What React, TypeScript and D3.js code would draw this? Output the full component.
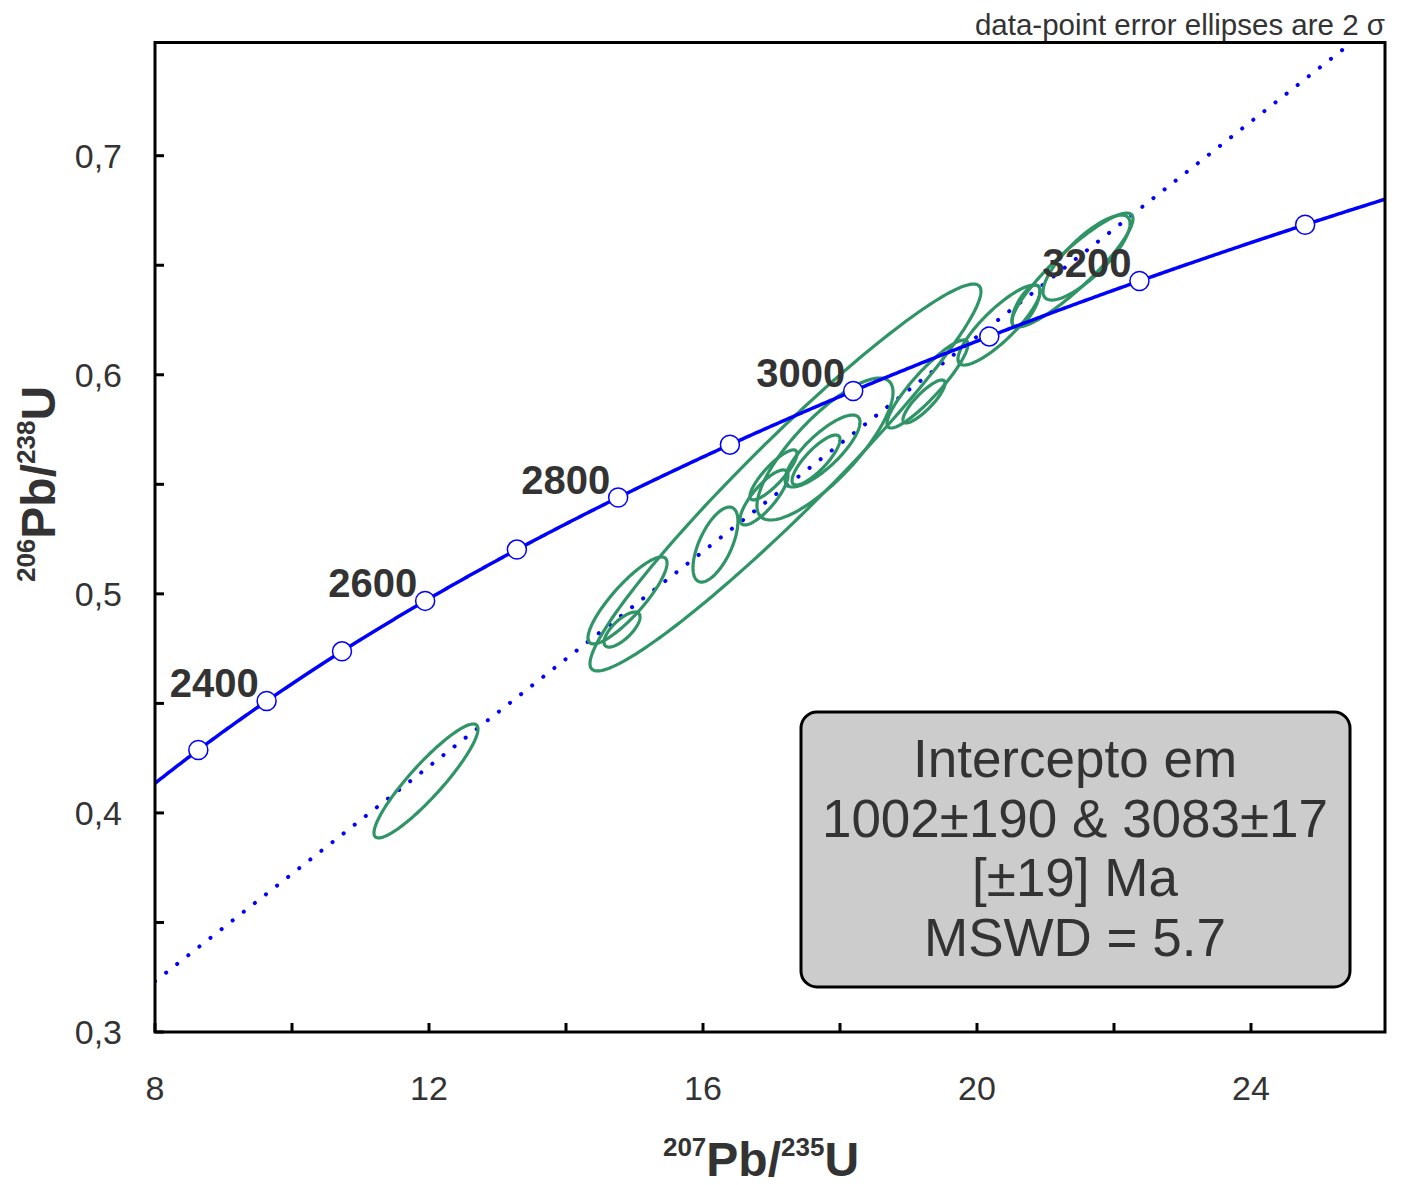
import React from 'react';
import * as d3 from 'd3';

// Decay constants (per year)
const LAMBDA_235 = 9.8485e-10;
const LAMBDA_238 = 1.55125e-10;

// Axis ticks
const xTickValues = [8, 12, 16, 20, 24];
const xMinorTicks = [10, 14, 18, 22];
const yTickValues = [0.3, 0.4, 0.5, 0.6, 0.7];
const yMinorTicks = [0.35, 0.45, 0.55, 0.65];

// Concordia age marks (Ma)
const concordiaAges = [2300, 2400, 2500, 2600, 2700, 2800, 2900, 3000, 3100, 3200, 3300];
const labeledAges = [2400, 2600, 2800, 3000, 3200];

// Discordia intercepts (Ma)
const interceptAges = [1002, 3083];

// Data-point error ellipses (2 sigma): 207Pb/235U, error, 206Pb/238U, error, rho
const ellX = [11.956, 14.898, 14.818, 17.204, 16.182, 17.650, 17.745, 17.781, 17.029, 16.891, 19.226, 19.277, 20.321, 20.715, 21.394, 21.599];
const ellXErr = [0.759, 0.577, 0.263, 2.854, 0.328, 0.350, 0.547, 0.993, 0.343, 0.350, 0.307, 0.591, 0.599, 0.204, 0.883, 0.635];
const ellY = [0.4146, 0.4970, 0.4837, 0.5531, 0.5225, 0.5611, 0.5652, 0.5661, 0.5543, 0.5440, 0.5878, 0.5958, 0.6227, 0.6314, 0.6478, 0.6535];
const ellYErr = [0.0260, 0.01986, 0.0080, 0.0883, 0.01712, 0.01141, 0.01643, 0.0324, 0.01141, 0.01255, 0.00981, 0.0201, 0.01826, 0.00959, 0.0260, 0.0194];
const ellRho = [0.91, 0.86, 0.72, 0.962, 0.62, 0.82, 0.80, 0.80, 0.85, 0.80, 0.85, 0.90, 0.85, 0.70, 0.90, 0.80];

const boxLines = ['Intercepto em', '1002±190 & 3083±17', '[±19] Ma', 'MSWD = 5.7'];
const noteText = 'data-point error ellipses are 2 σ';

const FONT = '"Liberation Sans", Arial, sans-serif';
const TEXT = '#333333';
const BLUE = '#0000ff';
const GREEN = '#2f9466';

const W = 1405;
const H = 1185;
const left = 155;
const right = 1385;
const top = 42.5;
const bottom = 1032;

const x = d3.scaleLinear().domain([8, 24]).range([left, 1251]);
const y = d3.scaleLinear().domain([0.3, 0.7]).range([bottom, 155.7]);

const conc = (tMa: number) => {
  const t = tMa * 1e6;
  return [Math.exp(LAMBDA_235 * t) - 1, Math.exp(LAMBDA_238 * t) - 1];
};

export default function App() {
  const line = d3.line<[number, number]>().x((d) => x(d[0])).y((d) => y(d[1]));

  // concordia curve
  const tStart = Math.log(1 + x.invert(left)) / LAMBDA_235 / 1e6 - 20;
  const tEnd = Math.log(1 + x.invert(right)) / LAMBDA_235 / 1e6 + 20;
  const concPts = d3.range(tStart, tEnd, 2).map((t) => conc(t) as [number, number]);
  const concPath = line(concPts) || '';

  // discordia
  const p1 = conc(interceptAges[0]);
  const p2 = conc(interceptAges[1]);
  const slope = (p2[1] - p1[1]) / (p2[0] - p1[0]);
  const xa = x.invert(left);
  const xb = x.invert(right);
  const discPath = line([
    [xa, p1[1] + slope * (xa - p1[0])],
    [xb, p1[1] + slope * (xb - p1[0])],
  ]) || '';

  // ellipses
  const closed = d3.line<[number, number]>().x((d) => x(d[0])).y((d) => y(d[1])).curve(d3.curveLinearClosed);
  const thetas = d3.range(0, 2 * Math.PI, Math.PI / 90);
  const ellPaths = ellX.map((cx, i) => {
    const a = ellXErr[i];
    const b = ellYErr[i];
    const r = ellRho[i];
    const s = Math.sqrt(1 - r * r);
    const pts = thetas.map((th) => [cx + a * Math.cos(th), ellY[i] + b * (r * Math.cos(th) + s * Math.sin(th))] as [number, number]);
    return closed(pts) || '';
  });

  return (
    <svg width={W} height={H} style={{ position: 'absolute', left: 0, top: 0, display: 'block', background: '#fff' }} fontFamily={FONT}>
      <defs>
        <clipPath id="plotClip">
          <rect x={left} y={top} width={right - left} height={bottom - top} />
        </clipPath>
      </defs>
      <rect x={0} y={0} width={W} height={H} fill="#ffffff" />

      <g clipPath="url(#plotClip)">
        <path d={discPath} fill="none" stroke={BLUE} strokeWidth={4} strokeDasharray="0.1 14" strokeLinecap="round" />
        {ellPaths.map((d, i) => (
          <path key={i} d={d} fill="none" stroke={GREEN} strokeWidth={3.2} />
        ))}
        <path d={concPath} fill="none" stroke={BLUE} strokeWidth={3.5} />
        {concordiaAges.map((t) => {
          const p = conc(t);
          return <circle key={t} cx={x(p[0])} cy={y(p[1])} r={9.5} fill="#ffffff" stroke={BLUE} strokeWidth={1.5} />;
        })}
      </g>

      {labeledAges.map((t) => {
        const p = conc(t);
        return (
          <text key={t} x={x(p[0]) - 8} y={y(p[1]) - 4} textAnchor="end" fontSize={40} fontWeight="bold" fill={TEXT}>
            {t}
          </text>
        );
      })}

      {/* frame */}
      <rect x={left} y={top} width={right - left} height={bottom - top} fill="none" stroke="#000" strokeWidth={3} />

      {/* ticks */}
      {[...xTickValues, ...xMinorTicks].map((v) => (
        <line key={'xt' + v} x1={x(v)} x2={x(v)} y1={bottom} y2={bottom - 9} stroke="#000" strokeWidth={3} />
      ))}
      {[...yTickValues, ...yMinorTicks].map((v) => (
        <line key={'yt' + v} x1={left} x2={left + 9} y1={y(v)} y2={y(v)} stroke="#000" strokeWidth={3} />
      ))}
      {xTickValues.map((v) => (
        <text key={'xl' + v} x={x(v)} y={1100} textAnchor="middle" fontSize={34} fill={TEXT}>
          {v}
        </text>
      ))}
      {yTickValues.map((v) => (
        <text key={'yl' + v} x={122} y={y(v) + 12} textAnchor="end" fontSize={34} fill={TEXT}>
          {String(v.toFixed(1)).replace('.', ',')}
        </text>
      ))}

      {/* axis titles */}
      <text x={761} y={1176} textAnchor="middle" fontSize={48} fontWeight="bold" fill={TEXT}>
        <tspan fontSize={26} dy={-20}>207</tspan>
        <tspan dy={20}>Pb/</tspan>
        <tspan fontSize={26} dy={-20}>235</tspan>
        <tspan dy={20}>U</tspan>
      </text>
      <text transform="translate(55,484) rotate(-90)" textAnchor="middle" fontSize={48} fontWeight="bold" fill={TEXT}>
        <tspan fontSize={26} dy={-20}>206</tspan>
        <tspan dy={20}>Pb/</tspan>
        <tspan fontSize={26} dy={-20}>238</tspan>
        <tspan dy={20}>U</tspan>
      </text>

      {/* note */}
      <text x={1385} y={35} textAnchor="end" fontSize={29.5} fill={TEXT}>
        {noteText}
      </text>

      {/* result box */}
      <rect x={801} y={712} width={549} height={275} rx={16} ry={16} fill="#cccccc" stroke="#000" strokeWidth={3} />
      {boxLines.map((s, i) => (
        <text key={i} x={1075} y={777 + i * 59.5} textAnchor="middle" fontSize={53} fill={TEXT}>
          {s}
        </text>
      ))}
    </svg>
  );
}
